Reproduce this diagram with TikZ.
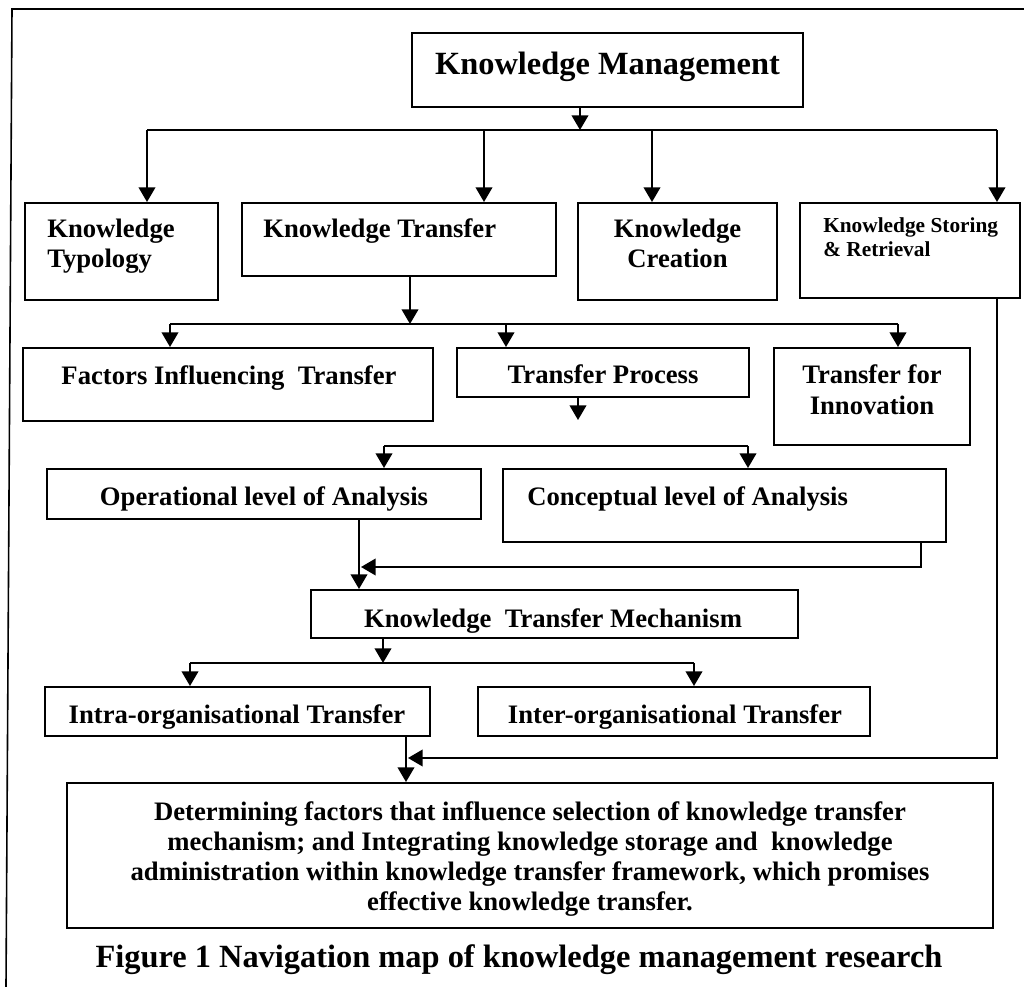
\documentclass[tikz,border=0pt]{standalone}
\usepackage{fontspec}
\setmainfont{Liberation Serif}
\usetikzlibrary{arrows.meta,fit}
\begin{document}
\begin{tikzpicture}[x=0.75pt,y=-0.75pt,
  box/.style={draw, line width=1.5pt, inner sep=0pt, fit={#1}},
  lbl/.style={font=\fontsize{20}{22.5}\selectfont\bfseries, inner sep=0pt},
  link/.style={line width=1.4pt},
  arr/.style={line width=1.4pt, -{Triangle[width=12.5pt,length=11pt]}},
]
\useasboundingbox (0,0) rectangle (1024,987);

% outer frame
\draw[line width=1.2pt] (1024,9) -- (12,9) -- (6,987);

% boxes
\node[box={(412,33) (803,107)}] (km) {};
\node[box={(25,203) (218,300)}] (typ) {};
\node[box={(242,203) (556,276)}] (kt) {};
\node[box={(578,203) (777,300)}] (cre) {};
\node[box={(800,203) (1020,298)}] (sto) {};
\node[box={(23,348) (433,421)}] (fac) {};
\node[box={(457,348) (749,397)}] (tp) {};
\node[box={(774,348) (970,445)}] (inn) {};
\node[box={(47,469) (481,519)}] (op) {};
\node[box={(503,469) (946,542)}] (con) {};
\node[box={(311,590) (798,638)}] (ktm) {};
\node[box={(45,687) (430,736)}] (intra) {};
\node[box={(478,687) (870,736)}] (inter) {};
\node[box={(67,783) (993,928)}] (fin) {};

% labels (multi-line labels sit on the baseline of their last line)
\node[lbl, font=\fontsize{24.3}{28}\selectfont\bfseries, anchor=base] at (607.5,75) {Knowledge Management};
\node[lbl, anchor=base west, align=left] at (47,268) {Knowledge\\Typology};
\node[lbl, anchor=base west] at (263,238) {Knowledge Transfer};
\node[lbl, anchor=base, align=center] at (677.5,268) {Knowledge\\Creation};
\node[lbl, font=\fontsize{16}{18}\selectfont\bfseries, anchor=base west, align=left] at (823,257) {Knowledge Storing\\\& Retrieval};
\node[lbl, anchor=base] at (229,384) {Factors Influencing~ Transfer};
\node[lbl, anchor=base] at (603,383) {Transfer Process};
\node[lbl, font=\fontsize{20}{23}\selectfont\bfseries, anchor=base, align=center] at (872,414) {Transfer for\\Innovation};
\node[lbl, anchor=base] at (264,505) {Operational level of Analysis};
\node[lbl, anchor=base west] at (527,505) {Conceptual level of Analysis};
\node[lbl, anchor=base] at (553,627) {Knowledge~ Transfer Mechanism};
\node[lbl, anchor=base] at (237,723) {Intra-organisational Transfer};
\node[lbl, anchor=base] at (675,723) {Inter-organisational Transfer};
\node[lbl, anchor=base, align=center] at (530,910) {Determining factors that influence selection of knowledge transfer\\mechanism; and Integrating knowledge storage and~ knowledge\\administration within knowledge transfer framework, which promises\\effective knowledge transfer.};
\node[lbl, font=\fontsize{24.3}{28}\selectfont\bfseries, anchor=base] at (519,967) {Figure 1 Navigation map of knowledge management research};

% junction points
\coordinate (b1) at (580,130);
\coordinate (b1w) at (147,130);
\coordinate (b1k) at (484,130);
\coordinate (b1c) at (652,130);
\coordinate (b1e) at (997,130);
\coordinate (b2) at (410,324);
\coordinate (b2w) at (170,324);
\coordinate (b2m) at (506,324);
\coordinate (b2e) at (898,324);
\coordinate (tpend) at (578,420);
\coordinate (b3w) at (384,446);
\coordinate (b3e) at (748,446);
\coordinate (j1) at (359,567);
\coordinate (j1t) at (361,567);
\coordinate (c1) at (921,567);
\coordinate (b4) at (383,663);
\coordinate (b4w) at (190,663);
\coordinate (b4e) at (694,663);
\coordinate (j2) at (406,758);
\coordinate (j2t) at (408,758);
\coordinate (s1) at (997,758);

% Knowledge Management branches
\draw[arr] (km.south -| b1) -- (b1);
\draw[link] (b1w) -- (b1e);
\draw[arr] (b1w) -- (typ.north -| b1w);
\draw[arr] (b1k) -- (kt.north -| b1k);
\draw[arr] (b1c) -- (cre.north -| b1c);
\draw[arr] (b1e) -- (sto.north -| b1e);

% Knowledge Transfer branches
\draw[arr] (kt.south -| b2) -- (b2);
\draw[link] (b2w) -- (b2e);
\draw[arr] (b2w) -- (fac.north -| b2w);
\draw[arr] (b2m) -- (tp.north -| b2m);
\draw[arr] (b2e) -- (inn.north -| b2e);

% Transfer Process
\draw[arr] (tp.south -| tpend) -- (tpend);
\draw[link] (b3w) -- (b3e);
\draw[arr] (b3w) -- (op.north -| b3w);
\draw[arr] (b3e) -- (con.north -| b3e);

% levels of analysis into the mechanism
\draw[arr] (op.south -| j1) -- (ktm.north -| j1);
\draw[arr] (con.south -| c1) -- (c1) -- (j1t);

% mechanism branches
\draw[arr] (ktm.south -| b4) -- (b4);
\draw[link] (b4w) -- (b4e);
\draw[arr] (b4w) -- (intra.north -| b4w);
\draw[arr] (b4e) -- (inter.north -| b4e);

% into the final box
\draw[arr] (intra.south -| j2) -- (fin.north -| j2);
\draw[arr] (sto.south -| s1) -- (s1) -- (j2t);
\end{tikzpicture}
\end{document}
